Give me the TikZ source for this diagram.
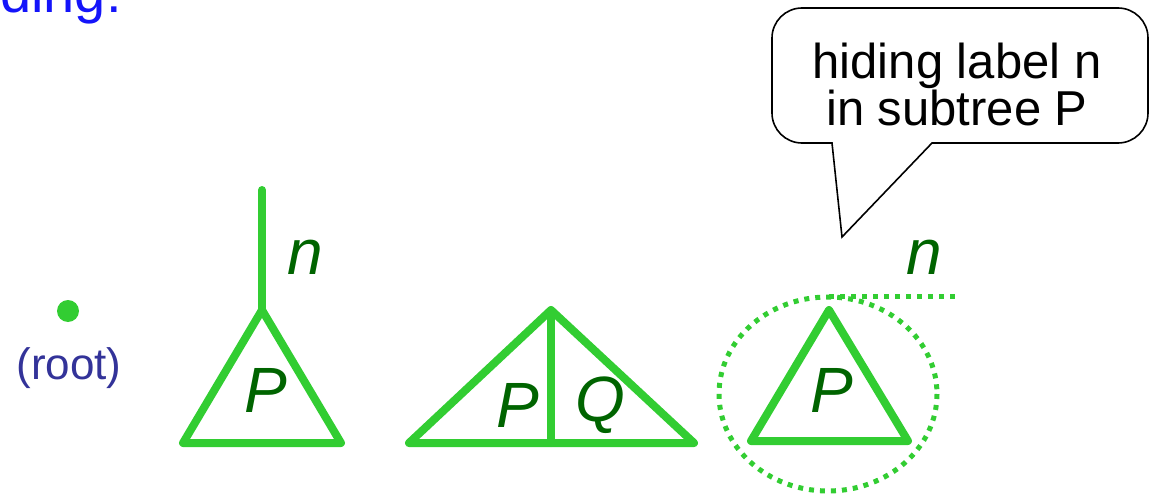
\documentclass[tikz,border=0pt]{standalone}
\usepackage{fontspec}
\setmainfont{Liberation Sans}
\definecolor{tree}{RGB}{50,205,50}
\definecolor{lab}{RGB}{0,100,0}
\definecolor{rootc}{RGB}{51,51,153}
\definecolor{titleblue}{RGB}{20,20,250}
\begin{document}
\begin{tikzpicture}[x=1pt,y=-1pt,
  edge/.style={draw=tree,line width=8pt,line join=round,line cap=round},
  dots/.style={draw=tree,line width=5pt,dash pattern=on 5pt off 6pt},
  lbl/.style={text=lab,font=\fontsize{64}{64}\selectfont\itshape,inner sep=0pt},
  bubble/.style={draw=black,line width=1.6pt,fill=white}]
\useasboundingbox (0,0) rectangle (1152,495);
\clip (0,0) rectangle (1152,495);
% title fragment
\node[anchor=base west,inner sep=0pt,text=titleblue,font=\fontsize{56}{56}\selectfont] (title) at (0,13) {ding:};
% root
\fill[tree] (68,311) circle (11) coordinate (root);
\node[text=rootc,font=\fontsize{44}{44}\selectfont,inner sep=0pt] (rootlbl) at (69,368) {(root)};
% tree 1
\coordinate (t1top) at (262,190);
\coordinate (t1a) at (262,310);
\coordinate (t1l) at (183,443);
\coordinate (t1r) at (341,443);
\draw[edge] (t1top) -- (t1a);
\draw[edge] (t1a) -- (t1l) -- (t1r) -- cycle;
\node[lbl] (p1) at (266,390) {P};
\node[lbl] (n1) at (305,257) {n};
% tree 2
\coordinate (t2a) at (551,310);
\coordinate (t2l) at (409,443);
\coordinate (t2r) at (694,443);
\coordinate (t2m) at (551,443);
\draw[edge] (t2a) -- (t2l) -- (t2r) -- cycle;
\draw[edge] (t2a) -- (t2m);
\node[lbl] (p2) at (518,405) {P};
\node[lbl] (q2) at (600,405) {Q};
% tree 3
\coordinate (t3a) at (829,310);
\coordinate (t3l) at (751,441);
\coordinate (t3r) at (908,441);
\draw[edge] (t3a) -- (t3l) -- (t3r) -- cycle;
\node[lbl] (p3) at (832,390) {P};
\draw[dots] (828,394) ellipse [x radius=109, y radius=97];
\coordinate (h1) at (829,296);
\coordinate (h2) at (955,296);
\draw[dots] (h1) -- (h2);
\node[lbl] (n3) at (924,257) {n};
% speech bubble
\coordinate (tip) at (842,237);
\draw[bubble] (832,143) [rounded corners=30] -- (772,143) -- (772,8) -- (1148,8) -- (1148,143) [sharp corners] -- (932,143) -- (tip) -- cycle;
\node[align=center,anchor=base,inner sep=0pt,font=\fontsize{49}{45}\selectfont] (note) at (957,125) {hiding label n\\in subtree P};
\end{tikzpicture}
\end{document}
